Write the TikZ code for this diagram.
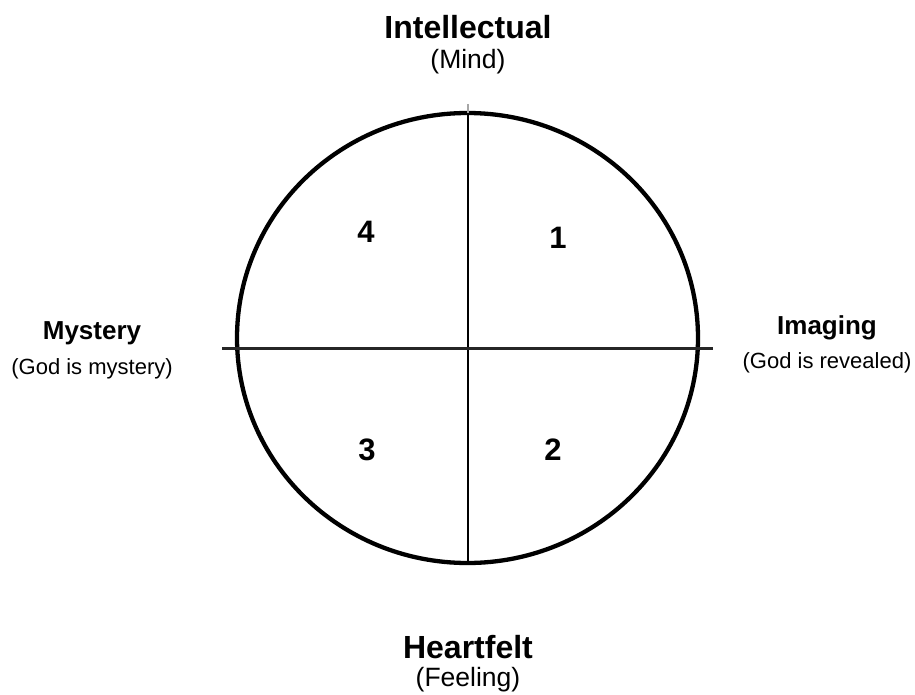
\documentclass[tikz,border=0pt]{standalone}
\usepackage{fontspec}
\setmainfont{Liberation Sans}
\begin{document}
\begin{tikzpicture}[x=1pt,y=-1pt,
  title/.style={font=\bfseries\fontsize{32}{34}\selectfont, inner sep=0pt},
  sub/.style={font=\fontsize{26.5}{28}\selectfont, inner sep=0pt},
  side/.style={font=\bfseries\fontsize{26}{28}\selectfont, inner sep=0pt},
  sidesub/.style={font=\fontsize{22}{24}\selectfont, inner sep=0pt},
  num/.style={font=\bfseries\fontsize{31}{33}\selectfont, inner sep=0pt}]
\useasboundingbox (0,0) rectangle (915,695);
\draw[line width=4.3pt] (467.5,338) ellipse [x radius=230.5, y radius=225];
\coordinate (tick) at (468,104);
\coordinate (vtop) at (468,113);
\coordinate (vbot) at (468,563);
\coordinate (hl) at (222,348);
\coordinate (hr) at (713,348);
\draw[line width=1.3pt, gray!70] (tick) -- (vtop);
\draw[line width=1.3pt] (vtop) -- (vbot);
\draw[line width=3pt, black!85] (hl) -- (hr);
\node[title] (intel) at (468,27) {Intellectual};
\node[sub] (mind) at (468,62) {(Mind)};
\node[side] (myst) at (92,333) {Mystery};
\node[sidesub] (mysts) at (92,369) {(God is mystery)};
\node[side] (imag) at (827,328) {Imaging};
\node[sidesub] (imags) at (827,363) {(God is revealed)};
\node[title] (heart) at (468,647) {Heartfelt};
\node[sub] (feel) at (468,680) {(Feeling)};
\node[num] (n4) at (366,232) {4};
\node[num] (n1) at (558,238) {1};
\node[num] (n3) at (367,450) {3};
\node[num] (n2) at (553,450) {2};
\end{tikzpicture}
\end{document}
